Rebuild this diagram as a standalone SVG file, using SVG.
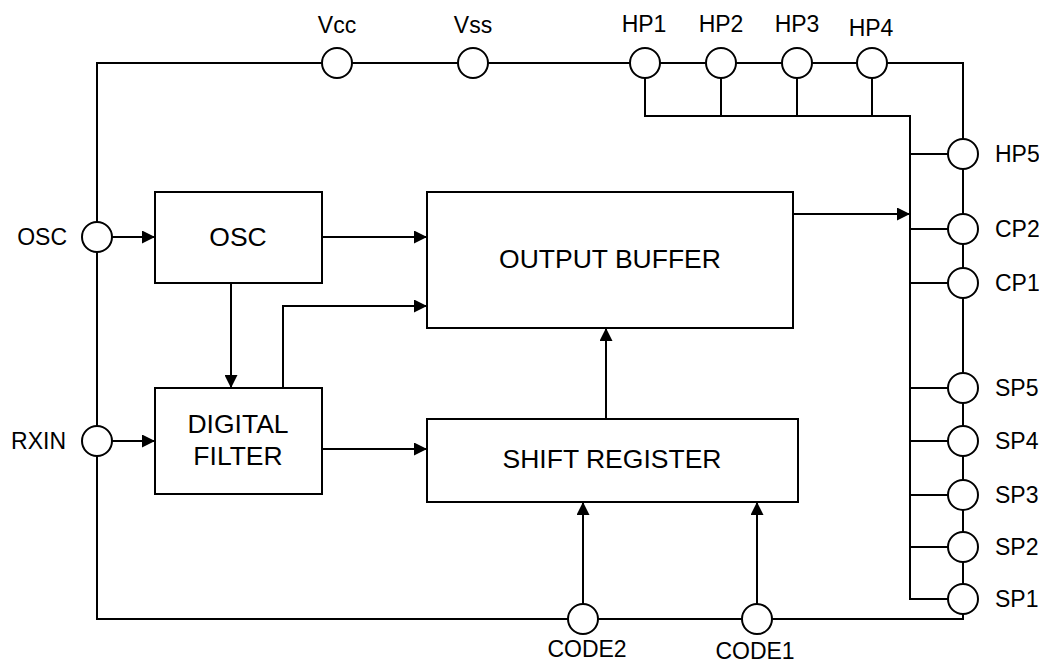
<svg xmlns="http://www.w3.org/2000/svg" width="1039" height="664" viewBox="0 0 1039 664">
<style>
.ln{fill:none;stroke:#000;stroke-width:2}
.box{fill:#fff;stroke:#000;stroke-width:2}
.pin{fill:#fff;stroke:#000;stroke-width:2}
.bt{font-family:"Liberation Sans",Arial,sans-serif;font-size:26.5px;fill:#000;text-anchor:middle}
.pt{font-family:"Liberation Sans",Arial,sans-serif;font-size:23px;fill:#000}
.c{text-anchor:middle}
.r{text-anchor:end}
</style>
<defs>
<marker id="ah" markerWidth="13" markerHeight="13" refX="13" refY="6.5" orient="auto" markerUnits="userSpaceOnUse">
<path d="M0,0 L13,6.5 L0,13 Z" fill="#000"/>
</marker>
</defs>
<rect width="1039" height="664" fill="#fff"/>
<g id="connectors">
<rect class="ln" x="97" y="63" width="866" height="556"/>
<path class="ln" d="M645,63 V116 H910 V600 M721,63 V116 M797,63 V116 M872,63 V116"/>
<path class="ln" d="M910,154 H948 M910,229 H948 M910,283 H948 M910,388 H948 M910,441 H948 M910,495 H948 M910,547 H948 M910,599 H948"/>
<path class="ln" marker-end="url(#ah)" d="M112,237 H155"/>
<path class="ln" marker-end="url(#ah)" d="M112,441 H155"/>
<path class="ln" marker-end="url(#ah)" d="M322,237 H427"/>
<path class="ln" marker-end="url(#ah)" d="M231,283 V388"/>
<path class="ln" marker-end="url(#ah)" d="M283,388 V306 H427"/>
<path class="ln" marker-end="url(#ah)" d="M322,449 H427"/>
<path class="ln" marker-end="url(#ah)" d="M606,419 V328"/>
<path class="ln" marker-end="url(#ah)" d="M793,214 H910"/>
<path class="ln" marker-end="url(#ah)" d="M583,604 V502"/>
<path class="ln" marker-end="url(#ah)" d="M757,604 V502"/>
</g>
<g id="osc-block"><rect class="box" x="155" y="192" width="167" height="91"/><text class="bt" x="238" y="246">OSC</text></g>
<g id="digital-filter"><rect class="box" x="155" y="388" width="167" height="106"/><text class="bt" x="238" y="433">DIGITAL</text><text class="bt" x="238" y="465">FILTER</text></g>
<g id="output-buffer"><rect class="box" x="427" y="192" width="366" height="136"/><text class="bt" x="610" y="268">OUTPUT BUFFER</text></g>
<g id="shift-register"><rect class="box" x="427" y="419" width="371" height="83"/><text class="bt" x="612" y="468">SHIFT REGISTER</text></g>
<g id="pin-vcc"><circle class="pin" cx="337" cy="63" r="15"/><text class="pt c" x="337" y="33">Vcc</text></g>
<g id="pin-vss"><circle class="pin" cx="473" cy="63" r="15"/><text class="pt c" x="473" y="33">Vss</text></g>
<g id="pin-hp1"><circle class="pin" cx="645" cy="63" r="15"/><text class="pt c" x="644" y="32">HP1</text></g>
<g id="pin-hp2"><circle class="pin" cx="721" cy="63" r="15"/><text class="pt c" x="721" y="32">HP2</text></g>
<g id="pin-hp3"><circle class="pin" cx="797" cy="63" r="15"/><text class="pt c" x="797" y="32">HP3</text></g>
<g id="pin-hp4"><circle class="pin" cx="872" cy="63" r="15"/><text class="pt c" x="871" y="36">HP4</text></g>
<g id="pin-osc"><circle class="pin" cx="97" cy="237" r="15"/><text class="pt r" x="67" y="245">OSC</text></g>
<g id="pin-rxin"><circle class="pin" cx="97" cy="441" r="15"/><text class="pt r" x="66" y="449">RXIN</text></g>
<g id="pin-hp5"><circle class="pin" cx="963" cy="154" r="15"/><text class="pt" x="995" y="162">HP5</text></g>
<g id="pin-cp2"><circle class="pin" cx="963" cy="229" r="15"/><text class="pt" x="995" y="237">CP2</text></g>
<g id="pin-cp1"><circle class="pin" cx="963" cy="283" r="15"/><text class="pt" x="995" y="291">CP1</text></g>
<g id="pin-sp5"><circle class="pin" cx="963" cy="388" r="15"/><text class="pt" x="995" y="396">SP5</text></g>
<g id="pin-sp4"><circle class="pin" cx="963" cy="441" r="15"/><text class="pt" x="995" y="449">SP4</text></g>
<g id="pin-sp3"><circle class="pin" cx="963" cy="495" r="15"/><text class="pt" x="995" y="503">SP3</text></g>
<g id="pin-sp2"><circle class="pin" cx="963" cy="547" r="15"/><text class="pt" x="995" y="555">SP2</text></g>
<g id="pin-sp1"><circle class="pin" cx="963" cy="599" r="15"/><text class="pt" x="995" y="607">SP1</text></g>
<g id="pin-code2"><circle class="pin" cx="583" cy="619" r="15"/><text class="pt c" x="587" y="657">CODE2</text></g>
<g id="pin-code1"><circle class="pin" cx="757" cy="619" r="15"/><text class="pt c" x="755" y="659">CODE1</text></g>
</svg>
